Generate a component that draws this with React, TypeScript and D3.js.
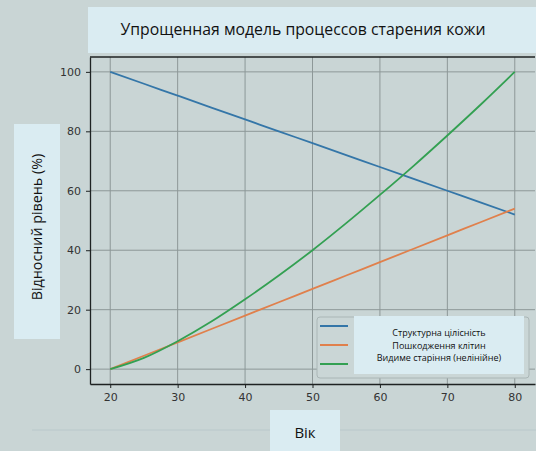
import * as d3 from 'd3'
import { useEffect, useRef } from 'react'

const ages = [20, 25, 30, 35, 40, 45, 50, 55, 60, 65, 70, 75, 80]
const structural = [100, 96, 92, 88, 84, 80, 76, 72, 68, 64, 60, 56, 52]
const damage = [0, 4.5, 9, 13.5, 18, 22.5, 27, 31.5, 36, 40.5, 45, 49.5, 54]
const visible = [0, 3.8, 9.4, 16, 23.5, 31.5, 40, 49.1, 58.6, 68.4, 78.6, 89.1, 100]
const xTicks = [20, 30, 40, 50, 60, 70, 80]
const yTicks = [0, 20, 40, 60, 80, 100]
const seriesNames = ['Структурна цілісність', 'Пошкодження клітин', 'Видиме старіння (нелінійне)']
const seriesColors = ['#3476a8', '#e0804c', '#33a052']

const W = 536
const H = 451

const App = () => {
  const ref = useRef<SVGSVGElement>(null)

  useEffect(() => {
    if (!ref.current) return
    const svg = d3.select(ref.current)
    svg.selectAll('*').remove()

    const left = 90, right = 535, top = 57, bottom = 384

    // background
    svg.append('rect').attr('width', W).attr('height', H).attr('fill', '#c9d5d5')

    const x = d3.scaleLinear().domain([17, 83]).range([left, right])
    const y = d3.scaleLinear().domain([-5, 105]).range([bottom, top])

    // grid
    const grid = svg.append('g')
    grid.selectAll('.gx').data(xTicks).enter().append('line')
      .attr('x1', d => x(d)).attr('x2', d => x(d))
      .attr('y1', top).attr('y2', bottom)
      .attr('stroke', '#8d9898').attr('stroke-width', 1)
    grid.selectAll('.gy').data(yTicks).enter().append('line')
      .attr('x1', left).attr('x2', right)
      .attr('y1', d => y(d)).attr('y2', d => y(d))
      .attr('stroke', '#8d9898').attr('stroke-width', 1)

    // lines
    const allSeries = [structural, damage, visible]
    allSeries.forEach((vals, i) => {
      const line = d3.line<number>()
        .x((_, j) => x(ages[j]))
        .y(d => y(d))
        .curve(d3.curveMonotoneX)
      svg.append('path')
        .datum(vals)
        .attr('fill', 'none')
        .attr('stroke', seriesColors[i])
        .attr('stroke-width', 1.8)
        .attr('d', line)
    })

    // axes
    const xAxis = svg.append('g')
      .attr('transform', `translate(0,${bottom})`)
      .call(d3.axisBottom(x).tickValues(xTicks).tickSizeInner(4).tickSizeOuter(0).tickPadding(5))
    const yAxis = svg.append('g')
      .attr('transform', `translate(${left},0)`)
      .call(d3.axisLeft(y).tickValues(yTicks).tickSizeInner(4).tickSizeOuter(0).tickPadding(5))
    for (const ax of [xAxis, yAxis]) {
      ax.select('.domain').attr('stroke', '#1e2222').attr('stroke-width', 1.3)
      ax.selectAll('.tick line').attr('stroke', '#1e2222')
      ax.selectAll('text')
        .style('font-family', 'DejaVu Sans')
        .style('font-size', '11px')
        .attr('fill', '#333')
    }
    // top spine
    svg.append('line').attr('x1', left).attr('x2', right).attr('y1', top).attr('y2', top)
      .attr('stroke', '#1e2222').attr('stroke-width', 1.3)

    // title box
    svg.append('rect').attr('x', 88).attr('y', 7).attr('width', W - 88).attr('height', 46).attr('fill', '#daecf2')
    svg.append('text').attr('x', 303).attr('y', 35).attr('text-anchor', 'middle')
      .style('font-family', 'Open Sans').style('font-size', '15.8px').attr('fill', '#111')
      .text('Упрощенная модель процессов старения кожи')

    // y label
    svg.append('rect').attr('x', 14).attr('y', 124).attr('width', 46).attr('height', 215).attr('fill', '#daecf2')
    svg.append('text').attr('transform', 'translate(42,227) rotate(-90)').attr('text-anchor', 'middle')
      .style('font-family', 'Open Sans').style('font-size', '14.3px').attr('fill', '#111')
      .text('Відносний рівень (%)')

    // faint separator
    svg.append('line').attr('x1', 32).attr('x2', W).attr('y1', 430).attr('y2', 430)
      .attr('stroke', '#b9c8cb').attr('stroke-width', 1)

    // x label
    svg.append('rect').attr('x', 270).attr('y', 410).attr('width', 70).attr('height', 41).attr('fill', '#daecf2')
    svg.append('text').attr('x', 305).attr('y', 438).attr('text-anchor', 'middle')
      .style('font-family', 'Open Sans').style('font-size', '15px').attr('fill', '#111')
      .text('Вік')

    // legend
    const lg = svg.append('g')
    lg.append('rect').attr('x', 317).attr('y', 317).attr('width', 212).attr('height', 61).attr('rx', 3)
      .attr('fill', '#cad6d6').attr('stroke', '#aab6b6')
    lg.append('rect').attr('x', 354).attr('y', 316).attr('width', 170).attr('height', 58).attr('fill', '#daecf2')
    seriesNames.forEach((name, i) => {
      const ly = 326 + i * 19
      lg.append('line').attr('x1', 320).attr('x2', 348).attr('y1', ly).attr('y2', ly)
        .attr('stroke', seriesColors[i]).attr('stroke-width', 2)
      lg.append('text').attr('x', 439).attr('y', 336 + i * 12.5).attr('text-anchor', 'middle')
        .style('font-family', 'Open Sans').style('font-size', '9px').attr('fill', '#111')
        .text(name)
    })
  }, [])

  return (
    <svg
      ref={ref}
      width={W}
      height={H}
      style={{ position: 'absolute', left: 0, top: 0, display: 'block' }}
    />
  )
}

export default App
